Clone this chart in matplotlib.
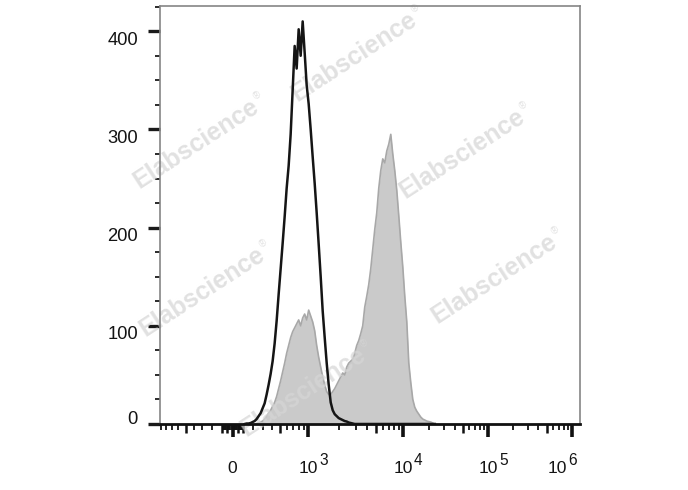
import numpy as np
import matplotlib
matplotlib.use("Agg")
import matplotlib.pyplot as plt
from matplotlib import transforms
from matplotlib.ticker import MultipleLocator
from matplotlib.textpath import TextToPath
from matplotlib.font_manager import FontProperties

plt.rcParams['font.family'] = ['Liberation Sans', 'DejaVu Sans']

# ---------------- data (display channels on a logicle-type axis) ----------------
channels = [6, 7, 8, 9, 10, 11, 12, 13, 14, 15, 16, 17, 18, 19, 20, 21, 22, 23, 24, 25,
            26, 27, 28, 29, 30, 31, 32, 33, 34, 35, 36, 37, 38, 39, 40, 41, 42, 43, 44, 45,
            46, 47, 48, 49, 50, 51, 52, 53, 54, 55, 56, 57, 58, 59, 60, 61, 62, 63, 64, 65,
            66, 67, 68, 69, 70, 71, 72, 73, 74, 75, 76, 77, 78, 79, 80, 81, 82, 83, 84, 85,
            86, 87, 88, 89, 90, 91, 92, 93, 94, 95, 96, 97, 98, 99, 100, 101]

control_counts = [0, 0.5, 0.5, 1, 2, 3, 5, 8, 11, 16,
                  21, 30, 40, 51, 64, 82, 105, 132, 158, 184,
                  211, 240, 263, 295, 340, 385, 362, 402, 375, 410,
                  378, 345, 326, 300, 272, 245, 215, 183, 150, 115,
                  88, 62, 40, 22, 14, 10, 8, 6, 5, 4,
                  3, 2.5, 1.5, 1, 0.5, 0, 0, 0, 0, 0,
                  0, 0, 0, 0, 0, 0, 0, 0, 0, 0,
                  0, 0, 0, 0, 0, 0, 0, 0, 0, 0,
                  0, 0, 0, 0, 0, 0, 0, 0, 0, 0,
                  0, 0, 0, 0, 0, 0]

stained_counts = [0, 0, 0, 0, 0,
                  0, 0.5, 1, 2, 3, 5, 8, 11, 14, 18,
                  22, 28, 36, 44, 53, 62, 72, 80, 88, 94,
                  98, 102, 106, 100, 108, 112, 106, 116, 110, 104,
                  95, 80, 68, 58, 48, 40, 33, 30, 30, 33,
                  36, 40, 44, 48, 52, 50, 58, 62, 64, 66,
                  72, 80, 85, 92, 100, 119, 130, 142, 158, 178,
                  198, 215, 240, 258, 270, 266, 278, 285, 295, 275,
                  258, 238, 212, 185, 160, 130, 104, 62, 42, 25,
                  17, 13, 10, 7, 5, 4, 3, 2.5, 2, 1, 0]

y_tick_values = [0, 100, 200, 300, 400]
y_tick_labels = ['0', '100', '200', '300', '400']
x_label_values = [0, 1e3, 1e4, 1e5, 1e6]
x_label_exponents = [None, '3', '4', '5', '6']
watermark_text = 'Elabscience'

# ---------------- logicle-like axis transform ----------------
LOG_A = 85.9
LOG_P = 3.0
CH_PER_DECADE = 41.65


def logicle_value(z):
    a = np.abs(z)
    return np.sign(z) * LOG_A * (10 ** a - LOG_P ** 2 * 10 ** (-a / LOG_P) + LOG_P ** 2 - 1)


_z_grid = np.linspace(-2.0, 5.0, 40001)
_v_grid = logicle_value(_z_grid)


def channel_of(v):
    return np.interp(v, _v_grid, _z_grid) * CH_PER_DECADE


XMIN, XMAX = -36.5, 173.5

# tick values
long_vals = [0, 1e3, 1e4, 1e5, 1e6]
medium_vals = [-500, -100, -50, 50, 100, 500, 5e3, 5e4, 5e5]
minor_vals = []
for k in [1, 2, 3, 4, 5]:
    for m in range(1, 10):
        for sgn in [1, -1]:
            v = sgn * m * 10 ** k
            if v in long_vals or v in medium_vals:
                continue
            c = channel_of(v)
            if XMIN <= c <= XMAX:
                minor_vals.append(v)

# ---------------- figure ----------------
fig = plt.figure(figsize=(6.88, 4.90), dpi=100)
ax = fig.add_axes([159.5 / 688, 66 / 490, 420.5 / 688, 418.3 / 490])

ax.fill_between(channels, stained_counts, 0, color='#cacaca', lw=0, zorder=1)
ax.plot(channels, stained_counts, color='#a8a8a8', lw=1.2, zorder=1.2)
ax.plot(channels, control_counts, color='#151515', lw=1.8, zorder=3)

ax.set_xlim(XMIN, XMAX)
ax.set_ylim(0, 426)

for s in ['left', 'top', 'right']:
    ax.spines[s].set_color('#858585')
    ax.spines[s].set_linewidth(1.2)
ax.spines['bottom'].set_color('#111111')
ax.spines['bottom'].set_linewidth(2.0)

# y ticks
ax.set_yticks(y_tick_values)
ax.yaxis.set_minor_locator(MultipleLocator(25))
ax.tick_params(axis='y', which='major', length=8.6, width=2.4, color='#1a1a1a',
               direction='out', labelleft=False)
ax.tick_params(axis='y', which='minor', length=3.8, width=1.3, color='#1a1a1a',
               direction='out')

# x ticks
major_pairs = sorted([(channel_of(v), 'L') for v in long_vals] +
                     [(channel_of(v), 'M') for v in medium_vals])
ax.set_xticks([p for p, _ in major_pairs])
ax.set_xticks(sorted(channel_of(v) for v in minor_vals), minor=True)
ax.tick_params(axis='x', which='major', length=9.3, width=2.6, color='#111111',
               direction='out', labelbottom=False)
ax.tick_params(axis='x', which='minor', length=4.0, width=1.3, color='#111111',
               direction='out')
for tick, (_, kind) in zip(ax.xaxis.get_major_ticks(), major_pairs):
    if kind == 'M':
        tick.tick1line.set_markersize(6.3)
        tick.tick1line.set_markeredgewidth(1.8)

TEXT_COLOR = '#141414'

# y labels (manual placement)
for v, s in zip(y_tick_values, y_tick_labels):
    dy = 0 if v == 0 else -13.5
    tr = transforms.offset_copy(ax.get_yaxis_transform(), fig=fig, x=-21.5, y=dy, units='dots')
    ax.text(0, v, s, transform=tr, ha='right', va='baseline', fontsize=13.2,
            color=TEXT_COLOR, clip_on=False)

# x labels (manual placement)
for v, e in zip(x_label_values, x_label_exponents):
    c = channel_of(v)
    shift = -14 if v == 1e6 else 0
    tr = transforms.offset_copy(ax.get_xaxis_transform(), fig=fig, x=shift, y=-49, units='dots')
    if e is None:
        ax.text(c, 0, '0', transform=tr, ha='center', va='baseline', fontsize=12.6,
                color=TEXT_COLOR, clip_on=False)
    else:
        ax.text(c, 0, '10', transform=tr, ha='center', va='baseline', fontsize=12.6,
                color=TEXT_COLOR, clip_on=False)
        tr2 = transforms.offset_copy(ax.get_xaxis_transform(), fig=fig, x=shift + 11.0,
                                     y=-40.5, units='dots')
        ax.text(c, 0, e, transform=tr2, ha='left', va='baseline', fontsize=11.2,
                color=TEXT_COLOR, clip_on=False)

# watermarks
wm_centers = [(358, 55), (200, 142), (466, 152), (206, 290), (498, 277), (307, 390)]
angle = 33.0
fp = FontProperties(family='Liberation Sans', weight='bold', size=18)
w_pt, _, _ = TextToPath().get_text_width_height_descent(watermark_text, fp, ismath=False)
w_px = w_pt * fig.dpi / 72.0
u = np.array([np.cos(np.radians(angle)), np.sin(np.radians(angle))])
n = np.array([-u[1], u[0]])
H = fig.get_figheight() * fig.dpi
for cx, cy in wm_centers:
    center = np.array([cx, H - cy])
    start = center - u * (w_px + 8) / 2
    ax.text(start[0], start[1], watermark_text, transform=transforms.IdentityTransform(),
            rotation=angle, rotation_mode='anchor', ha='left', va='center',
            fontproperties=fp, color='#d6d6d6', alpha=0.72, zorder=2.2, clip_on=False)
    rpos = start + u * (w_px + 1.5) + n * 8.0
    ax.text(rpos[0], rpos[1], '\u00ae', transform=transforms.IdentityTransform(),
            rotation=angle, rotation_mode='anchor', ha='left', va='center',
            fontsize=7, color='#d6d6d6', alpha=0.72, zorder=2.2, clip_on=False)

fig.savefig('out.png', dpi=100, facecolor='white')
